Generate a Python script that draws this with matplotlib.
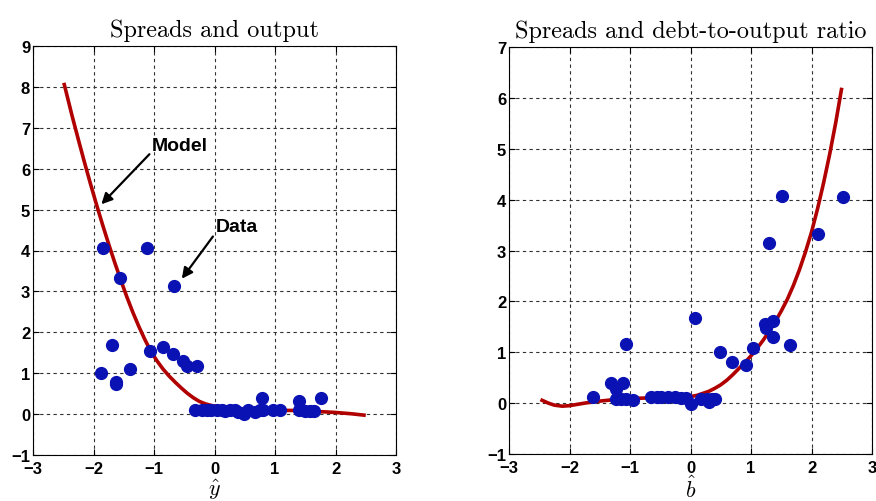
import matplotlib
matplotlib.use("Agg")
import matplotlib.pyplot as plt

# ---- Left panel: spreads vs output ----
left_data_x = [-1.88, -1.84, -1.69, -1.63, -1.62, -1.56, -1.39, -1.12, -1.07, -0.85, -0.69, -0.67,
               -0.52, -0.45, -0.29, -0.32, -0.20, -0.13, -0.05, 0.04, 0.12, 0.17, 0.25, 0.34, 0.39,
               0.48, 0.56, 0.67, 0.75, 0.79, 0.80, 0.97, 1.08, 1.39, 1.39, 1.50, 1.58, 1.64, 1.76]
left_data_y = [1.01, 4.06, 1.68, 0.74, 0.79, 3.33, 1.10, 4.07, 1.55, 1.63, 1.47, 3.13,
               1.30, 1.17, 1.18, 0.11, 0.10, 0.09, 0.10, 0.10, 0.09, 0.08, 0.10, 0.09, 0.06,
               0.00, 0.10, 0.06, 0.10, 0.39, 0.09, 0.10, 0.10, 0.31, 0.10, 0.08, 0.07, 0.07, 0.39]
left_model_x = [-2.49, -2.35, -2.25, -2.15, -2.05, -1.95, -1.85, -1.75, -1.65, -1.55, -1.45,
                -1.35, -1.25, -1.15, -1.05, -0.95, -0.85, -0.75, -0.65, -0.55, -0.45, -0.35,
                -0.25, -0.15, -0.05, 0.05, 0.25, 0.5, 0.75, 1.0, 1.25, 1.5, 1.75, 2.0, 2.25, 2.5]
left_model_y = [8.10, 7.27, 6.71, 6.16, 5.63, 5.12, 4.63, 4.16, 3.71, 3.28, 2.87,
                2.49, 2.14, 1.82, 1.53, 1.30, 1.10, 0.93, 0.78, 0.64, 0.51, 0.40,
                0.31, 0.25, 0.21, 0.185, 0.15, 0.12, 0.10, 0.09, 0.09, 0.08, 0.06, 0.04, 0.01, -0.03]

# ---- Right panel: spreads vs debt-to-output ----
right_data_x = [-1.61, -1.32, -1.23, -1.11, -1.06, -1.23, -1.15, -1.06, -0.95, -0.65, -0.56, -0.48,
                -0.37, -0.26, -0.15, -0.07, 0.00, 0.07, 0.18, 0.27, 0.35, 0.40, 0.30, 0.49, 0.69,
                0.92, 1.04, 1.23, 1.25, 1.36, 1.37, 1.64, 1.51, 2.52, 1.30, 2.10]
right_data_y = [0.13, 0.40, 0.28, 0.40, 1.17, 0.08, 0.08, 0.08, 0.07, 0.12, 0.12, 0.12,
                0.12, 0.13, 0.11, 0.10, -0.01, 1.68, 0.08, 0.08, 0.08, 0.08, 0.03, 1.00, 0.80,
                0.74, 1.08, 1.56, 1.47, 1.62, 1.29, 1.14, 4.08, 4.06, 3.14, 3.33]
right_model_x = [-2.48, -2.35, -2.25, -2.12, -2.0, -1.75, -1.5, -1.25, -1.0, -0.75, -0.5, -0.25,
                 0.0, 0.1, 0.2, 0.3, 0.4, 0.5, 0.6, 0.7, 0.8, 0.9, 1.0, 1.1, 1.2, 1.3, 1.4,
                 1.5, 1.6, 1.7, 1.8, 1.9, 2.0, 2.1, 2.2, 2.3, 2.4, 2.5]
right_model_y = [0.07, 0.00, -0.04, -0.06, -0.05, 0.00, 0.04, 0.07, 0.09, 0.10, 0.11, 0.11,
                 0.13, 0.15, 0.19, 0.23, 0.29, 0.36, 0.45, 0.56, 0.68, 0.80, 0.93, 1.075, 1.235,
                 1.41, 1.60, 1.81, 2.04, 2.31, 2.62, 2.97, 3.36, 3.82, 4.33, 4.89, 5.51, 6.20]

titles = ["Spreads and output", "Spreads and debt-to-output ratio"]
xlabels = [r"$\hat{y}$", r"$\hat{b}$"]
x_ticks = [-3, -2, -1, 0, 1, 2, 3]
left_y_ticks = list(range(-1, 10))
right_y_ticks = list(range(-1, 8))

plt.rcParams["mathtext.fontset"] = "cm"

fig = plt.figure(figsize=(8.76, 5.02), dpi=100)
ax1 = fig.add_axes([33/876, 46/502, 363/876, 409/502])
ax2 = fig.add_axes([509/876, 47/502, 363/876, 407/502])

red = "#B00000"
blue = "#0A12B4"

panels = [
    (ax1, left_data_x, left_data_y, left_model_x, left_model_y, left_y_ticks),
    (ax2, right_data_x, right_data_y, right_model_x, right_model_y, right_y_ticks),
]
for i, (ax, dx, dy, mx, my, yt) in enumerate(panels):
    ax.plot(mx, my, color=red, lw=2.6, solid_capstyle="butt", solid_joinstyle="round", zorder=3)
    ax.plot(dx, dy, "o", color=blue, ms=8.5, mec=blue, zorder=4)
    ax.set_xlim(-3, 3)
    ax.set_ylim(yt[0], yt[-1])
    ax.set_xticks(x_ticks)
    ax.set_yticks(yt)
    ax.grid(True, color="#333333", linestyle=(0, (3, 3)), linewidth=0.8)
    ax.set_axisbelow(True)
    ax.tick_params(direction="in", length=4, width=0.8, top=True, right=True)
    ax.tick_params(axis="x", pad=4)
    ax.tick_params(axis="y", pad=2)
    for lab in ax.get_xticklabels() + ax.get_yticklabels():
        lab.set_fontfamily("Liberation Sans")
        lab.set_fontweight("bold")
        lab.set_fontsize(12)
    for s in ax.spines.values():
        s.set_linewidth(0.8)
    ax.set_title(titles[i], family="cmr10", fontsize=17.5, pad=7)

# x labels placed in figure coordinates so the hats stay clear of the tick labels
fig.text((33 + 363 / 2) / 876, 1 - 490 / 502, xlabels[0], fontsize=16, ha="center", va="center")
fig.text((509 + 363 / 2) / 876, 1 - 489 / 502, xlabels[1], fontsize=16, ha="center", va="center")

for label, tip, txt in [("Model", (-1.87, 5.13), (-1.03, 6.57)),
                        ("Data", (-0.54, 3.31), (0.02, 4.58))]:
    ax1.annotate(label, xy=tip, xytext=txt,
                 fontsize=14, fontweight="bold", family="Liberation Sans",
                 va="center", ha="left",
                 arrowprops=dict(arrowstyle="-|>", color="black", lw=1.6,
                                 shrinkA=0, shrinkB=0, mutation_scale=16,
                                 relpos=(0, 0.15)))

fig.savefig("out.png", dpi=100)
